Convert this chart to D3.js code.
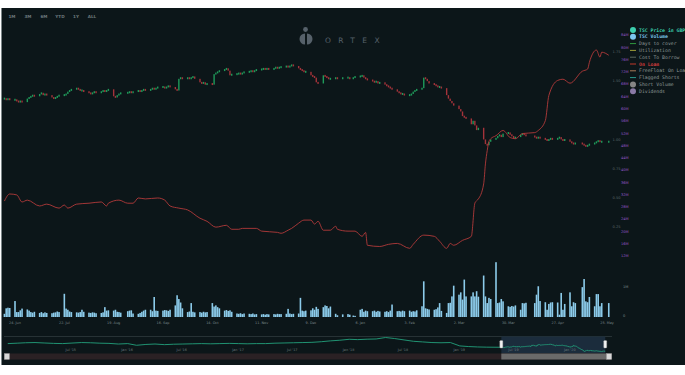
<!DOCTYPE html>
<html>
<head>
<meta charset="utf-8">
<script src="https://cdn.jsdelivr.net/npm/d3@7"></script>
<style>
  body { margin: 0; background: #fff; }
  svg { display: block; }
  text { font-family: "DejaVu Sans", sans-serif; }
  .mono { font-family: "DejaVu Sans Mono", monospace; }
</style>
</head>
<body>
<div id="chart"></div>
<script>
// trading calendar (UK holidays are skipped)
const firstDay = "2019-06-18";
const lastDay = "2020-05-26";
const holidays = ["2019-08-26", "2019-12-25", "2019-12-26", "2020-01-01",
  "2020-04-10", "2020-04-13", "2020-05-08", "2020-05-25"];

// daily close, GBP (one row per week)
const closes = [
  1.35,1.34,1.35,1.34,
  1.34,1.33,1.32,1.33,1.32,
  1.35,1.36,1.37,1.38,1.37,
  1.39,1.40,1.38,1.39,1.38,
  1.36,1.35,1.36,1.37,1.38,
  1.38,1.39,1.41,1.42,1.43,
  1.44,1.43,1.42,1.42,1.41,
  1.40,1.39,1.40,1.41,1.40,
  1.41,1.42,1.41,1.42,1.43,
  1.37,1.36,1.38,1.39,1.40,
  1.40,1.41,1.40,1.41,
  1.42,1.41,1.42,1.43,1.42,
  1.43,1.44,1.43,1.44,1.45,
  1.45,1.44,1.45,1.46,1.45,
  1.43,1.42,1.52,1.53,1.52,
  1.53,1.52,1.53,1.54,1.52,
  1.49,1.48,1.49,1.47,1.48,
  1.47,1.56,1.57,1.58,1.59,
  1.60,1.61,1.59,1.55,1.56,
  1.56,1.57,1.56,1.57,1.58,
  1.58,1.59,1.58,1.59,1.60,
  1.60,1.61,1.60,1.61,1.60,
  1.61,1.62,1.61,1.62,1.62,
  1.63,1.62,1.63,1.64,1.63,
  1.61,1.60,1.59,1.58,1.58,
  1.55,1.54,1.53,1.49,1.48,
  1.55,1.54,1.53,1.52,1.52,
  1.53,1.52,1.53,
  1.53,1.52,1.53,1.54,
  1.54,1.55,1.53,1.52,1.51,
  1.50,1.49,1.50,1.48,1.49,
  1.47,1.46,1.45,1.44,1.43,
  1.41,1.40,1.39,1.39,1.38,
  1.38,1.39,1.41,1.42,1.43,
  1.44,1.53,1.52,1.50,1.48,
  1.47,1.46,1.45,1.45,1.44,
  1.38,1.35,1.33,1.31,1.29,
  1.26,1.24,1.20,1.19,1.18,
  1.13,1.16,1.12,1.08,1.10,
  1.00,0.96,0.95,0.98,1.00,
  1.01,1.03,1.04,1.02,1.05,
  1.06,1.04,1.03,1.01,1.02,
  1.04,1.05,1.04,1.03,
  1.02,1.01,1.02,1.01,
  1.00,0.99,1.00,1.01,1.00,
  1.01,1.02,1.00,0.99,1.00,
  0.98,0.97,0.96,0.97,
  0.96,0.95,0.94,0.95,0.96,
  0.97,0.98,0.99,0.98,0.98,
  0.98
];

// daily volume, millions of shares
const volumes = [
  0.11,0.30,0.32,0.31,
  0.55,0.17,0.17,0.23,0.29,
  0.26,0.22,0.17,0.15,0.18,
  0.14,0.17,0.13,0.16,0.14,
  0.13,0.15,0.16,0.19,0.17,
  0.80,0.29,0.25,0.19,0.17,
  0.16,0.15,0.17,0.25,0.18,
  0.15,0.14,0.16,0.15,0.13,
  0.14,0.16,0.34,0.22,0.23,
  0.22,0.25,0.18,0.17,0.15,
  0.20,0.22,0.23,0.12,
  0.11,0.14,0.18,0.22,0.25,
  0.25,0.20,0.69,0.22,0.21,
  0.22,0.24,0.23,0.21,0.25,
  0.40,0.75,0.62,0.50,0.30,
  0.17,0.19,0.48,0.18,0.16,
  0.17,0.15,0.18,0.16,0.17,
  0.48,0.36,0.40,0.34,0.30,
  0.22,0.24,0.21,0.23,0.18,
  0.12,0.11,0.13,0.10,0.12,
  0.11,0.10,0.12,0.09,0.10,
  0.09,0.10,0.08,0.10,0.09,
  0.10,0.09,0.11,0.10,0.10,
  0.11,0.28,0.12,0.10,0.11,
  0.12,0.66,0.22,0.20,0.22,
  0.23,0.30,0.25,0.35,0.28,
  0.34,0.40,0.38,0.30,0.36,
  0.11,0.06,0.09,
  0.10,0.08,0.05,0.04,
  0.25,0.28,0.18,0.22,0.20,
  0.20,0.22,0.18,0.21,0.19,
  0.18,0.20,0.17,0.22,0.43,
  0.20,0.21,0.19,0.22,0.20,
  0.22,0.18,0.20,0.19,0.23,
  0.37,1.23,0.30,0.28,0.26,
  0.25,0.27,0.33,0.48,0.21,
  0.14,0.48,0.49,0.71,1.08,
  0.77,0.85,0.60,1.29,0.71,
  0.71,0.85,0.71,0.89,0.70,
  1.43,0.71,0.48,0.66,0.62,
  1.89,0.48,0.50,0.62,0.54,
  0.37,0.35,0.38,0.36,0.40,
  0.25,0.48,0.47,0.49,
  0.48,0.77,1.06,0.55,
  0.51,0.25,0.45,0.50,0.51,
  0.50,0.08,0.83,0.25,0.45,
  0.85,0.37,0.51,0.48,
  1.03,1.31,0.54,0.51,0.69,
  0.37,0.79,0.79,0.37,0.48,
  0.48
];

// shares on loan, millions
const loanDates = [
  "2019-06-18","2019-06-21","2019-06-25","2019-06-28","2019-07-01","2019-07-08","2019-07-12",
  "2019-07-19","2019-07-22","2019-07-24","2019-07-29","2019-08-05","2019-08-12","2019-08-15",
  "2019-08-16","2019-08-22","2019-08-27","2019-08-30","2019-09-02","2019-09-06","2019-09-13",
  "2019-09-17","2019-09-20","2019-09-25","2019-09-30","2019-10-07","2019-10-11","2019-10-16",
  "2019-10-22","2019-10-25","2019-10-29","2019-10-31","2019-11-08","2019-11-11","2019-11-20",
  "2019-11-22","2019-11-26","2019-11-28","2019-12-02","2019-12-05","2019-12-09","2019-12-11",
  "2019-12-13","2019-12-16","2019-12-20","2019-12-23","2019-12-24","2019-12-30","2020-01-03",
  "2020-01-07","2020-01-09","2020-01-10","2020-01-17","2020-01-22","2020-01-27","2020-02-03",
  "2020-02-05","2020-02-11","2020-02-17","2020-02-20","2020-02-24","2020-02-26","2020-02-28",
  "2020-03-04","2020-03-09","2020-03-11","2020-03-12","2020-03-13","2020-03-16","2020-03-17",
  "2020-03-18","2020-03-19","2020-03-20","2020-03-23","2020-03-27","2020-03-31","2020-04-03",
  "2020-04-07","2020-04-14","2020-04-16","2020-04-20","2020-04-22","2020-04-27","2020-04-30",
  "2020-05-04","2020-05-11","2020-05-14","2020-05-15","2020-05-19","2020-05-21","2020-05-22",
  "2020-05-26"
];
const loanValues = [
  29.9,32.2,31.9,29.6,30.2,28.3,28.9,
  27.6,28.6,27.6,28.9,29.2,29.6,28.3,
  29.2,30.2,29.2,29.2,30.9,30.6,30.9,
  30.2,28.3,27.6,27.0,24.3,23.3,21.4,
  22.0,20.7,20.7,21.0,21.0,20.1,19.7,
  19.4,20.4,21.0,22.7,23.7,23.7,22.4,
  23.3,20.4,20.4,21.7,20.7,20.1,20.1,
  18.4,19.7,15.5,15.1,15.8,16.1,14.5,
  15.8,18.8,18.4,16.8,14.5,16.1,15.5,
  17.1,18.4,29.2,30.0,30.6,35.5,42.0,
  46.3,49.3,50.2,51.2,52.9,50.6,50.2,
  51.9,52.2,52.9,56.1,64.3,69.2,69.6,
  68.3,72.2,72.9,75.1,79.1,76.8,78.4,
  77.4
];

// navigator: monthly close Jan 2015 - May 2019, then the daily closes above
const navStart = "2015-01-01";
const navMonthly = [
  1.70,1.74,1.78,1.80,1.76,1.72,1.70,1.75,1.80,1.78,1.74,1.72,
  1.66,1.70,1.54,1.62,1.66,1.60,1.64,1.66,1.68,1.70,1.68,1.70,
  1.72,1.70,1.68,1.70,1.70,1.74,1.76,1.78,1.80,1.82,1.88,1.96,
  2.02,2.11,2.08,2.12,2.14,2.28,2.18,2.05,1.92,1.86,1.80,1.78,
  1.80,1.48,1.42,1.38,1.36
];

const xTickDates = ["2019-06-24","2019-07-22","2019-08-19","2019-09-16","2019-10-14","2019-11-11",
  "2019-12-09","2020-01-06","2020-02-03","2020-03-02","2020-03-30","2020-04-27","2020-05-25"];
const xTickLabels = ["24. Jun","22. Jul","19. Aug","16. Sep","14. Oct","11. Nov",
  "9. Dec","6. Jan","3. Feb","2. Mar","30. Mar","27. Apr","25. May"];
const navTickDates = ["2015-07-01","2016-01-01","2016-07-01","2017-01-01","2017-07-01",
  "2018-01-01","2018-07-01","2019-01-01","2019-07-01","2020-01-01"];
const navTickLabels = ["Jul '15","Jan '16","Jul '16","Jan '17","Jul '17",
  "Jan '18","Jul '18","Jan '19","Jul '19","Jan '20"];
const loanTicks = [84,80,76,72,68,64,60,56,52,48,44,40,36,32,28,24,20,16,12];
const priceTicks = [1.75,1.5,1.0,0.75,0.5,0.25];
const volTicks = [0, 1];
const rangeButtons = ["1M","3M","6M","YTD","1Y","ALL"];
const legendNames = ["TSC Price in GBP","TSC Volume","Days to cover","Utilization","Cost To Borrow",
  "On Loan","FreeFloat On Loan","Flagged Shorts","Short Volume","Dividends"];

// ---------------------------------------------------------------
const W = 685, H = 375;
const parse = d3.timeParse("%Y-%m-%d");
const fmt = d3.timeFormat("%Y-%m-%d");

const days = d3.timeDay.range(parse(firstDay), d3.timeDay.offset(parse(lastDay), 1))
  .filter(d => d.getDay() % 6 !== 0 && !holidays.includes(fmt(d)));
const n = Math.min(days.length, closes.length, volumes.length);

const daily = d3.range(n).map(i => ({
  date: days[i],
  open: i === 0 ? closes[0] : closes[i - 1],
  close: closes[i],
  volume: volumes[i]
}));
const loan = loanDates.map((d, i) => ({date: parse(d), value: loanValues[i]}));
const navData = d3.timeMonth.range(parse(navStart), parse("2019-06-01"))
  .map((d, i) => ({date: d, value: navMonthly[i]}))
  .concat(daily.map(d => ({date: d.date, value: d.close})));

const bg = "#0c1619";

const svg = d3.select("#chart").append("svg")
  .attr("width", W)
  .attr("height", H);

svg.append("rect").attr("width", W).attr("height", H).attr("fill", "#fff");
svg.append("rect").attr("x", 1).attr("y", 8).attr("width", W - 1).attr("height", 357).attr("fill", bg);
svg.append("line").attr("x1", 1.5).attr("x2", 1.5).attr("y1", 8).attr("y2", 365)
  .attr("stroke", "#7d8789").attr("stroke-width", 1);

// scales
const x = d3.scaleTime().domain([parse("2019-06-24"), parse("2020-05-25")]).range([15, 607]);
const yPrice = d3.scaleLinear().domain([0, 1.75]).range([256, 52]);
const yLoan = d3.scaleLinear().domain([12, 84]).range([256, 35]);
const yVol = d3.scaleLinear().domain([0, 1]).range([317, 288]);
const xNav = d3.scaleTime().domain([parse("2015-07-01"), parse("2020-01-01")]).range([62.6, 561]);
const yNav = d3.scaleLinear().domain([0.9, 2.3]).range([352, 337.3]);

// range selector
svg.append("g").selectAll("text")
  .data(rangeButtons)
  .join("text")
  .attr("x", (d, i) => 12 + i * 16)
  .attr("y", 18)
  .attr("text-anchor", "middle")
  .attr("font-size", 4.2)
  .attr("font-weight", "bold")
  .attr("fill", "#6b7779")
  .text(d => d);

// ORTEX logo
const logo = svg.append("g").attr("fill", "#56616a");
logo.append("circle").attr("cx", 305.5).attr("cy", 29.5).attr("r", 2.4);
logo.append("path").attr("d", "M305,33.5 A5.5,5.5 0 0 0 305,44.5 Z");
logo.append("path").attr("d", "M307,33.5 A5.5,5.5 0 0 1 307,44.5 Z");
svg.append("text")
  .attr("x", 325).attr("y", 43)
  .attr("font-size", 7.5)
  .attr("letter-spacing", 7.4)
  .attr("fill", "#56616a")
  .text("ORTEX");

// volume bars
svg.append("g").selectAll("rect")
  .data(daily)
  .join("rect")
  .attr("x", d => x(d.date) - 0.8)
  .attr("width", 1.6)
  .attr("y", d => yVol(d.volume))
  .attr("height", d => yVol(0) - yVol(d.volume))
  .attr("fill", "#8ccbea");

// candles
svg.append("g").selectAll("rect")
  .data(daily)
  .join("rect")
  .attr("x", d => x(d.date) - 0.7)
  .attr("width", 1.4)
  .attr("y", d => Math.min(yPrice(Math.max(d.open, d.close)), (yPrice(d.open) + yPrice(d.close)) / 2 - 1))
  .attr("height", d => Math.max(2, Math.abs(yPrice(d.open) - yPrice(d.close))))
  .attr("fill", d => d.close >= d.open ? "#1f9a5a" : "#a4333a");

// on loan line
svg.append("path")
  .datum(loan)
  .attr("fill", "none")
  .attr("stroke", "#b23a3a")
  .attr("stroke-width", 0.9)
  .attr("d", d3.line().curve(d3.curveMonotoneX).x(d => x(d.date)).y(d => yLoan(d.value)));

// x axis labels
svg.append("g").selectAll("text")
  .data(xTickDates)
  .join("text")
  .attr("x", d => x(parse(d)))
  .attr("y", 324)
  .attr("text-anchor", "middle")
  .attr("font-size", 3.4)
  .attr("fill", "#7c8a8c")
  .text((d, i) => xTickLabels[i]);

// right-hand axes
svg.append("g").selectAll("text")
  .data(priceTicks)
  .join("text")
  .attr("x", 620.5)
  .attr("y", d => yPrice(d) + 1.3)
  .attr("text-anchor", "end")
  .attr("font-size", 3.6)
  .attr("fill", "#5d6668")
  .text(d => d.toFixed(2));

svg.append("g").selectAll("text")
  .data(loanTicks)
  .join("text")
  .attr("x", 621)
  .attr("y", d => yLoan(d) + 1.3)
  .attr("font-size", 3.6)
  .attr("fill", "#9656c8")
  .text(d => d + "M");

svg.append("g").selectAll("text")
  .data(volTicks)
  .join("text")
  .attr("x", 623)
  .attr("y", d => yVol(d) - 0.5)
  .attr("font-size", 3.6)
  .attr("fill", "#7c8a8c")
  .text(d => d === 0 ? "0" : d + "M");

// legend
const legendStyle = [
  {kind: "dot", color: "#3dcfae", text: "#3dcfae", bold: true},
  {kind: "dot", color: "#7cc6f0", text: "#7cc6f0", bold: true},
  {kind: "line", color: "#2f9a3e", text: "#8d9697"},
  {kind: "line", color: "#9c9c38", text: "#8d9697"},
  {kind: "line", color: "#5c6b62", text: "#8d9697"},
  {kind: "line", color: "#c0392b", text: "#d23c3c", bold: true},
  {kind: "line", color: "#a87a58", text: "#8d9697"},
  {kind: "line", color: "#2a9a8e", text: "#8d9697"},
  {kind: "dot", color: "#858585", text: "#8d9697"},
  {kind: "dot", color: "#8a7aa6", text: "#8d9697"}
];
const legend = svg.append("g").selectAll("g")
  .data(legendNames)
  .join("g")
  .attr("transform", (d, i) => "translate(0," + (30 + i * 6.8) + ")");

legend.filter((d, i) => legendStyle[i].kind === "dot")
  .append("circle")
  .attr("cx", 633).attr("cy", 0).attr("r", 3)
  .attr("fill", (d) => legendStyle[legendNames.indexOf(d)].color);
legend.filter((d, i) => legendStyle[i].kind === "line")
  .append("line")
  .attr("x1", 630).attr("x2", 636).attr("y1", 0).attr("y2", 0)
  .attr("stroke-width", 1)
  .attr("stroke", (d) => legendStyle[legendNames.indexOf(d)].color);
legend.append("text")
  .attr("class", "mono")
  .attr("x", 639).attr("y", 1.6)
  .attr("font-size", 4.8)
  .attr("font-weight", (d, i) => legendStyle[i].bold ? "bold" : "normal")
  .attr("fill", (d, i) => legendStyle[i].text)
  .text(d => d);

// navigator
const selX0 = xNav(daily[0].date), selX1 = xNav(daily[n - 1].date);
svg.append("line").attr("x1", 4).attr("x2", 612).attr("y1", 336.5).attr("y2", 336.5)
  .attr("stroke", "#3a4648").attr("stroke-width", 0.6);
svg.append("rect").attr("x", selX0).attr("y", 336.5).attr("width", selX1 - selX0).attr("height", 16.5)
  .attr("fill", "#1b2c3c");
svg.append("path")
  .datum(navData)
  .attr("fill", "none")
  .attr("stroke", "#22a07c")
  .attr("stroke-width", 0.9)
  .attr("d", d3.line().x(d => xNav(d.date)).y(d => yNav(d.value)));

svg.append("g").selectAll("text")
  .data(navTickDates)
  .join("text")
  .attr("x", d => xNav(parse(d)) + 3)
  .attr("y", 351)
  .attr("font-size", 3.4)
  .attr("fill", "#6d7b7d")
  .text((d, i) => navTickLabels[i]);

svg.append("g").selectAll("rect")
  .data([selX0, selX1])
  .join("rect")
  .attr("x", d => d - 1.5).attr("y", 340.5)
  .attr("width", 3).attr("height", 7.5).attr("rx", 0.8)
  .attr("fill", "#f2f2f2").attr("stroke", "#999").attr("stroke-width", 0.4);

// scrollbar
svg.append("rect").attr("x", 4).attr("y", 353.5).attr("width", 608).attr("height", 6)
  .attr("fill", "#2a2124");
svg.append("rect").attr("x", selX0).attr("y", 353.5).attr("width", selX1 - selX0 + 2).attr("height", 6)
  .attr("fill", "#6a6a6a");
svg.append("g").selectAll("rect")
  .data([4.3, 606.5])
  .join("rect")
  .attr("x", d => d).attr("y", 353.5).attr("width", 5.2).attr("height", 6)
  .attr("fill", "#d8d8d8").attr("stroke", "#9a9a9a").attr("stroke-width", 0.3);
</script>
</body>
</html>
